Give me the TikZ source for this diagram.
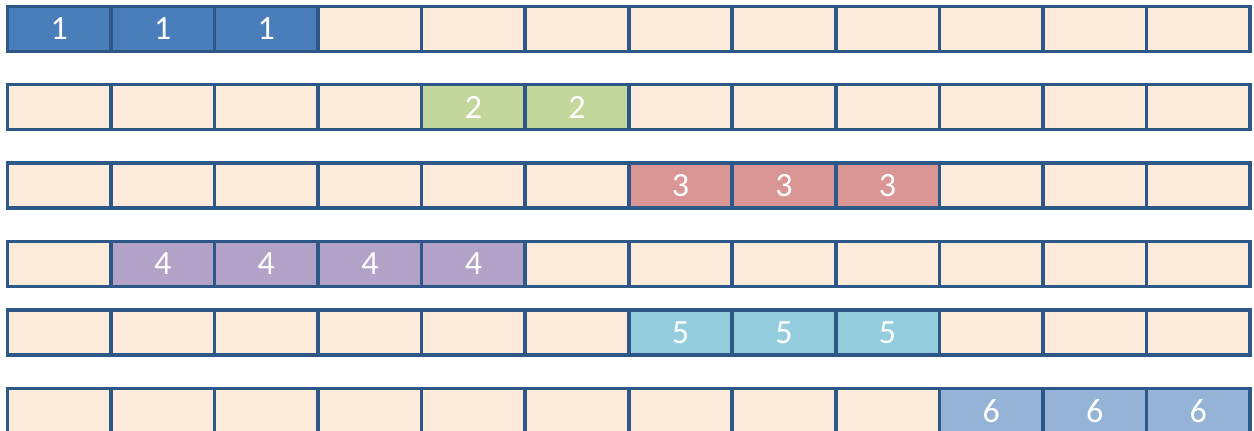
\documentclass[tikz,border=0pt]{standalone}
\usepackage{fontspec}
\setmainfont{Carlito}
\definecolor{edge}{HTML}{2C5786}
\definecolor{bg}{HTML}{FCEBDB}
\definecolor{cA}{HTML}{4A7EBB}
\definecolor{cB}{HTML}{C3D69B}
\definecolor{cC}{HTML}{D99694}
\definecolor{cD}{HTML}{B3A2C7}
\definecolor{cE}{HTML}{93CDDD}
\definecolor{cF}{HTML}{95B3D7}
\begin{document}
\begin{tikzpicture}[x=1pt,y=-1pt,
  cell/.style={draw=edge, line width=3.6pt, minimum width=103.54pt, minimum height=45pt,
    inner sep=0pt, outer sep=0pt, anchor=north west,
    font=\fontsize{34}{34}\selectfont, text=white}]
\useasboundingbox (0,0) rectangle (1254,431);
\foreach \r/\y/\a/\b/\c in {1/6.5/0/2/cA, 2/84.5/4/5/cB, 3/163/6/8/cC, 4/241.5/1/4/cD, 5/310/6/8/cE, 6/388.5/9/11/cF}{
  \foreach \i in {0,...,11}{
    \ifnum\i<\a \def\fcol{bg}\def\lbl{}\else
      \ifnum\i>\b \def\fcol{bg}\def\lbl{}\else
        \def\fcol{\c}\def\lbl{\r}\fi\fi
    \node[cell, fill=\fcol] (c\r-\i) at ({7.5+\i*103.54}, \y) {\lbl};
  }
}
\end{tikzpicture}
\end{document}
